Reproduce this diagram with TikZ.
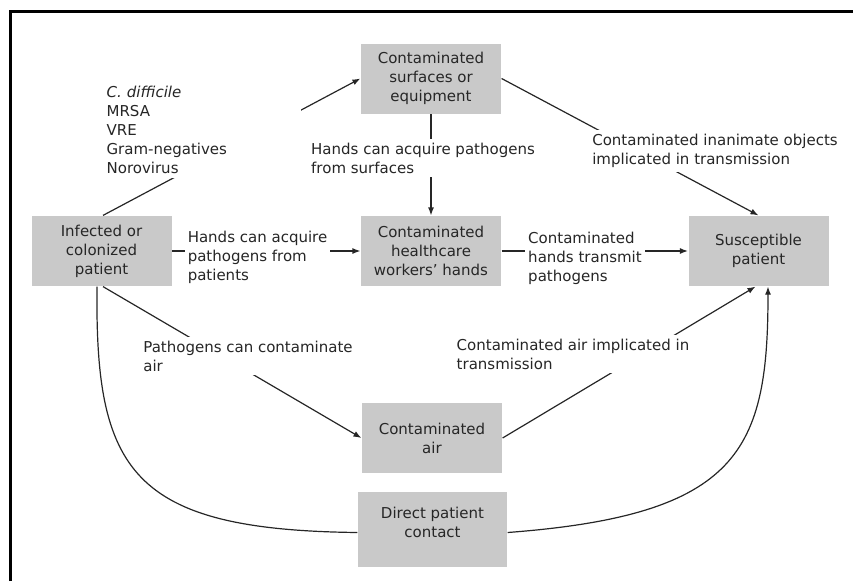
\documentclass[tikz,border=0pt]{standalone}
\usepackage{fontspec}
\setmainfont{DejaVu Sans}
\usetikzlibrary{arrows.meta}

\begin{document}
\begin{tikzpicture}[x=1pt,y=-1pt,line width=1.2pt,>={Latex[length=8pt,width=6pt]},
  font=\fontsize{15}{19}\selectfont,
  stage/.style={fill=black!21,text=black!85,minimum width=140pt,minimum height=70pt,align=center,inner sep=0pt},
  lbl/.style={fill=white,text=black!85,align=left,inner xsep=3pt,inner ysep=4pt},
  link/.style={black!85}]
  \useasboundingbox (0,0) rectangle (853,581);
  % marco
  \draw[line width=3pt] (10,581)--(10,11)--(853,11);
  % cajas
  \node[stage] (inf) at (101.5,251) {Infected or\\colonized\\patient};
  \node[stage] (surf) at (431,78.5) {Contaminated\\surfaces or\\equipment};
  \node[stage] (hands) at (431,251) {Contaminated\\healthcare\\workers' hands};
  \node[stage] (susc) at (758.5,251) {Susceptible\\patient};
  \node[stage] (air) at (432,438) {Contaminated\\air};
  \node[stage,minimum width=149pt,minimum height=75pt,
    label={[align=center,text=black!85,yshift=7pt]center:Direct patient\\contact}] (direct) at (432.5,529.5) {};
  % conexiones
  \draw[link,->] ([xshift=1.5pt]inf.north) -- (surf.west);
  \draw[link,->] (surf.east) -- (susc.north);
  \draw[link,->] (surf.south) -- (hands.north);
  \draw[link,->] (inf.east) -- (hands.west);
  \draw[link,->] (hands.east) -- (susc.west);
  \draw[link,->] ([xshift=1.5pt]inf.south) -- (air.west);
  \draw[link,->] (air.east) -- ([xshift=-3pt]susc.south);
  \draw[link,->] ([yshift=-3pt]direct.east) .. controls (740,515) and (768,450) .. ([xshift=9.5pt]susc.south);
  \draw[link] ([xshift=-4.5pt]inf.south) .. controls (95,470) and (130,530) .. ([yshift=-3pt]direct.west);
  % etiquetas
  \node[lbl,anchor=north west,text width=188pt,inner xsep=6pt] (lbug) at (100,82) {\textit{C. difficile}\\MRSA\\VRE\\Gram-negatives\\Norovirus};
  \node[lbl] (lhp) at (257.5,257) {Hands can acquire\\pathogens from\\patients};
  \node[lbl] (lht) at (585,258) {Contaminated\\hands transmit\\pathogens};
  \node[lbl] (lhs) at (423,158) {Hands can acquire pathogens\\from surfaces};
  \node[lbl] (lio) at (715,151) {Contaminated inanimate objects\\implicated in transmission};
  \node[lbl] (lpa) at (248,356) {Pathogens can contaminate\\air};
  \node[lbl] (lca) at (573,354) {Contaminated air implicated in\\transmission};
\end{tikzpicture}
\end{document}
